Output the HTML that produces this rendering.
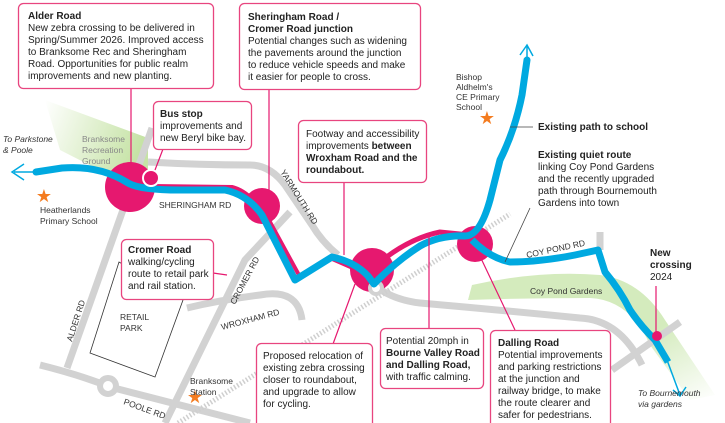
<!DOCTYPE html>
<html><head><meta charset="utf-8"><style>
html,body{margin:0;padding:0;background:#fff;}
svg{display:block;font-family:"Liberation Sans",Arial,sans-serif;}
.t{font-size:10px;fill:#222;}
.b{font-weight:bold;}
.r{font-size:8.5px;fill:#333;}
.box{fill:#fff;stroke:#e8457f;stroke-width:1.3;}
.rd{fill:none;stroke:#d2d2d2;stroke-width:7;stroke-linecap:butt;stroke-linejoin:round;}
.ld{stroke:#e6186f;stroke-width:1.2;fill:none;}
</style></head><body>
<svg width="725" height="423" viewBox="0 0 725 423" xmlns="http://www.w3.org/2000/svg">
<defs>
<linearGradient id="g1" x1="1" y1="0.3" x2="0" y2="0"><stop offset="0" stop-color="#c6e3a6"/><stop offset="1" stop-color="#c6e3a6" stop-opacity="0"/></linearGradient>
<linearGradient id="g2" x1="0" y1="0" x2="1" y2="1"><stop offset="0.6" stop-color="#d4ebbd"/><stop offset="1" stop-color="#d4ebbd" stop-opacity="0"/></linearGradient>
</defs>
<polygon points="45,100 148,138 148,182 115,178 60,150" fill="url(#g1)"/>
<path d="M472,285 Q540,270 600,275 Q640,280 665,320 L715,395 L690,400 L650,345 Q630,300 590,298 Q530,298 468,300 Z" fill="url(#g2)"/>
<path class="rd" d="M152,128 L67,368"/>
<path class="rd" d="M40,365 Q80,375 110,387 L250,423"/>
<circle cx="108" cy="386" r="8" fill="#fff" stroke="#d2d2d2" stroke-width="6"/>
<path class="rd" d="M290,212 L245,260 L165,423"/>
<path class="rd" d="M148,162 Q200,165 250,165 Q270,165 285,185 L312,225 Q322,242 338,255"/>
<path class="rd" d="M187,308 Q220,300 260,295 Q298,288 302,320"/>
<path class="rd" d="M378,288 Q395,300 420,303 Q500,310 580,318 Q620,320 642,365"/>
<path class="rd" d="M612,370 L680,322"/>
<path class="rd" d="M600,232 L600,250"/>
<path d="M178,423 L510,214" stroke="#cfcfcf" stroke-width="5" stroke-dasharray="1.5,2" fill="none"/>
<polygon points="119,262 90,353 155,377 183,300" fill="none" stroke="#333" stroke-width="0.8"/>
<path d="M152,186 L232,187 Q252,192 270,222 L300,277 L330,258 L362,272" fill="none" stroke="#e6186f" stroke-width="4" stroke-linejoin="round"/>
<path d="M380,262 Q410,238 440,232 L470,235" fill="none" stroke="#e6186f" stroke-width="5"/>
<circle cx="130" cy="187" r="25" fill="#e6186f"/>
<circle cx="262" cy="206" r="18" fill="#e6186f"/>
<circle cx="372" cy="270" r="22" fill="#e6186f"/>
<circle cx="475" cy="244" r="18" fill="#e6186f"/>
<circle cx="376" cy="288" r="6" fill="#fff" stroke="#d2d2d2" stroke-width="4"/>
<path d="M36,172 L62,168 Q100,165 128,183 Q140,190 180,190 L225,190 Q248,195 262,215 L295,280 L332,257 Q355,262 368,276 L374,284 Q395,262 420,246 Q440,235 465,236 Q480,236 490,200 L500,160 Q515,130 522,95 L527,60" fill="none" stroke="#00a9e0" stroke-width="7" stroke-linejoin="round" stroke-linecap="round"/>
<path d="M472,240 Q490,258 510,262 Q540,262 575,255 L598,250 L605,272 Q620,290 630,310 Q640,325 655,340 L668,362" fill="none" stroke="#00a9e0" stroke-width="7" stroke-linejoin="round"/>
<path d="M40,172 L14,172 M24,164 L12,172 L24,180" fill="none" stroke="#00a9e0" stroke-width="1.5"/>
<path d="M667,360 L680,395 M673,390 L680,396 L686,387" fill="none" stroke="#00a9e0" stroke-width="1.5"/>
<path d="M527,62 L527,45 M520,55 L527,45 L533,56" fill="none" stroke="#00a9e0" stroke-width="1.5"/>
<circle cx="151" cy="178" r="8" fill="#e6186f" stroke="#fff" stroke-width="2"/>
<circle cx="657" cy="336" r="5" fill="#e6186f"/>
<text x="44" y="202" font-size="18" fill="#f47c20" text-anchor="middle">★</text>
<text x="487" y="124" font-size="18" fill="#f47c20" text-anchor="middle">★</text>
<text x="195" y="403" font-size="18" fill="#f47c20" text-anchor="middle">★</text>
<path class="ld" d="M131,88 L131,168 M269,89 L269,192 M163,149 L155,170 M344,182 L344,255 M213,273 L227,275 M333,344 L355,284 M429,328 L429,236 M515,330 L478,252 M656,286 L656,332"/>
<path d="M510,127 L533,127 M530,208 L505,262" stroke="#444" stroke-width="0.8" fill="none"/>
<rect class="box" x="18.5" y="3.5" width="195" height="85" rx="5"/>
<text class="t"><tspan x="28" y="19" class="b">Alder Road</tspan><tspan x="28" y="31">New zebra crossing to be delivered in</tspan><tspan x="28" y="43">Spring/Summer 2026. Improved access</tspan><tspan x="28" y="55">to Branksome Rec and Sheringham</tspan><tspan x="28" y="67">Road. Opportunities for public realm</tspan><tspan x="28" y="79">improvements and new planting.</tspan></text>
<rect class="box" x="239.5" y="3.5" width="181" height="86" rx="5"/>
<text class="t"><tspan x="248" y="20" class="b">Sheringham Road /</tspan><tspan x="248" y="32" class="b">Cromer Road junction</tspan><tspan x="248" y="44">Potential changes such as widening</tspan><tspan x="248" y="56">the pavements around the junction</tspan><tspan x="248" y="68">to reduce vehicle speeds and make</tspan><tspan x="248" y="80">it easier for people to cross.</tspan></text>
<rect class="box" x="153.5" y="101.5" width="98" height="48" rx="5"/>
<text class="t"><tspan x="160" y="117" class="b">Bus stop</tspan><tspan x="160" y="129">improvements and</tspan><tspan x="160" y="141">new Beryl bike bay.</tspan></text>
<rect class="box" x="298.5" y="120.5" width="128" height="62" rx="5"/>
<text class="t"><tspan x="306" y="137">Footway and accessibility</tspan><tspan x="306" y="149">improvements <tspan class="b">between</tspan></tspan><tspan x="306" y="161" class="b">Wroxham Road and the</tspan><tspan x="306" y="173" class="b">roundabout.</tspan></text>
<rect class="box" x="121.5" y="239.5" width="92" height="60" rx="5"/>
<text class="t"><tspan x="128" y="253" class="b">Cromer Road</tspan><tspan x="128" y="265">walking/cycling</tspan><tspan x="128" y="277">route to retail park</tspan><tspan x="128" y="289">and rail station.</tspan></text>
<rect class="box" x="256.5" y="343.5" width="116" height="85" rx="5"/>
<text class="t"><tspan x="263" y="359">Proposed relocation of</tspan><tspan x="263" y="371">existing zebra crossing</tspan><tspan x="263" y="383">closer to roundabout,</tspan><tspan x="263" y="395">and upgrade to allow</tspan><tspan x="263" y="407">for cycling.</tspan></text>
<rect class="box" x="380.5" y="328.5" width="103" height="60" rx="5"/>
<text class="t"><tspan x="386" y="344">Potential 20mph in</tspan><tspan x="386" y="356" class="b">Bourne Valley Road</tspan><tspan x="386" y="368" class="b">and Dalling Road,</tspan><tspan x="386" y="380">with traffic calming.</tspan></text>
<rect class="box" x="490.5" y="330.5" width="120" height="100" rx="5"/>
<text class="t"><tspan x="498" y="346" class="b">Dalling Road</tspan><tspan x="498" y="358">Potential improvements</tspan><tspan x="498" y="370">and parking restrictions</tspan><tspan x="498" y="382">at the junction and</tspan><tspan x="498" y="394">railway bridge, to make</tspan><tspan x="498" y="406">the route clearer and</tspan><tspan x="498" y="418">safer for pedestrians.</tspan></text>
<text class="r" font-size="8.5"><tspan x="456" y="80">Bishop</tspan><tspan x="456" y="90">Aldhelm's</tspan><tspan x="456" y="100">CE Primary</tspan><tspan x="456" y="110">School</tspan></text>
<text class="t b" x="538" y="130">Existing path to school</text>
<text class="t"><tspan x="538" y="158" class="b">Existing quiet route</tspan><tspan x="538" y="170">linking Coy Pond Gardens</tspan><tspan x="538" y="182">and the recently upgraded</tspan><tspan x="538" y="194">path through Bournemouth</tspan><tspan x="538" y="206">Gardens into town</tspan></text>
<text class="t"><tspan x="650" y="256" class="b">New</tspan><tspan x="650" y="268" class="b">crossing</tspan><tspan x="650" y="280">2024</tspan></text>
<text class="r" font-style="italic"><tspan x="638" y="396">To Bournemouth</tspan><tspan x="638" y="407">via gardens</tspan></text>
<text class="r" font-style="italic"><tspan x="3" y="142">To Parkstone</tspan><tspan x="3" y="153">&amp; Poole</tspan></text>
<text class="r" style="fill:#888"><tspan x="82" y="142">Branksome</tspan><tspan x="82" y="153">Recreation</tspan><tspan x="82" y="164">Ground</tspan></text>
<text class="r"><tspan x="40" y="213">Heatherlands</tspan><tspan x="40" y="224">Primary School</tspan></text>
<text class="r"><tspan x="190" y="384">Branksome</tspan><tspan x="190" y="395">Station</tspan></text>
<text class="r" font-size="8"><tspan x="120" y="320">RETAIL</tspan><tspan x="120" y="331">PARK</tspan></text>
<text class="r" x="530" y="294">Coy Pond Gardens</text>
<text class="r" font-size="8" x="159" y="208">SHERINGHAM RD</text>
<text class="r" font-size="8" transform="translate(280,172) rotate(58)">YARMOUTH RD</text>
<text class="r" font-size="8" transform="translate(235,305) rotate(-62)">CROMER RD</text>
<text class="r" font-size="8" transform="translate(222,330) rotate(-15)">WROXHAM RD</text>
<text class="r" font-size="8" transform="translate(72,342) rotate(-72)">ALDER RD</text>
<text class="r" font-size="8" transform="translate(123,404) rotate(20)">POOLE RD</text>
<text class="r" font-size="8" transform="translate(527,258) rotate(-12)">COY POND RD</text>
</svg>
</body></html>
